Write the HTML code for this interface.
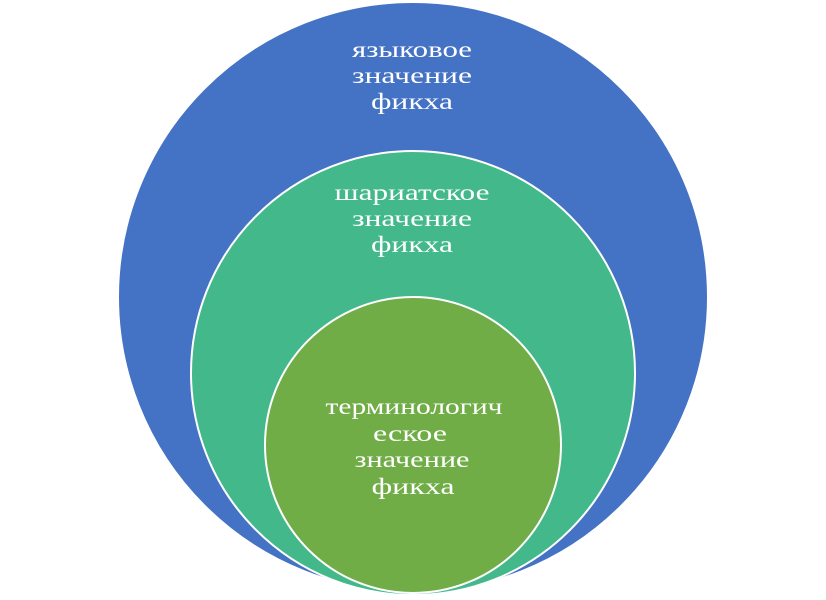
<!DOCTYPE html>
<html><head><meta charset="utf-8"><style>
html,body{margin:0;padding:0;background:#fff;}
text{font-family:"Liberation Serif","DejaVu Serif",serif;font-size:23px;fill:#fff;}
</style></head><body>
<svg width="826" height="595" viewBox="0 0 826 595" xmlns="http://www.w3.org/2000/svg">
<circle cx="413" cy="297" r="295" fill="#4472C4" stroke="#fff" stroke-width="2"/>
<circle cx="413" cy="373" r="222" fill="#43B98B" stroke="#fff" stroke-width="2"/>
<circle cx="413" cy="445" r="148" fill="#70AD47" stroke="#fff" stroke-width="2"/>
<g text-anchor="middle">
<text x="412" y="57" textLength="120" lengthAdjust="spacingAndGlyphs">языковое</text>
<text x="412" y="83" textLength="120" lengthAdjust="spacingAndGlyphs">значение</text>
<text x="412" y="109" textLength="82" lengthAdjust="spacingAndGlyphs">фикха</text>
<text x="412" y="200" textLength="155" lengthAdjust="spacingAndGlyphs">шариатское</text>
<text x="412" y="226" textLength="120" lengthAdjust="spacingAndGlyphs">значение</text>
<text x="412" y="252" textLength="82" lengthAdjust="spacingAndGlyphs">фикха</text>
<text x="414" y="414" textLength="177" lengthAdjust="spacingAndGlyphs">терминологич</text>
<text x="410" y="441" textLength="74" lengthAdjust="spacingAndGlyphs">еское</text>
<text x="412" y="467" textLength="115" lengthAdjust="spacingAndGlyphs">значение</text>
<text x="413" y="494" textLength="83" lengthAdjust="spacingAndGlyphs">фикха</text>
</g>
</svg>
</body></html>
